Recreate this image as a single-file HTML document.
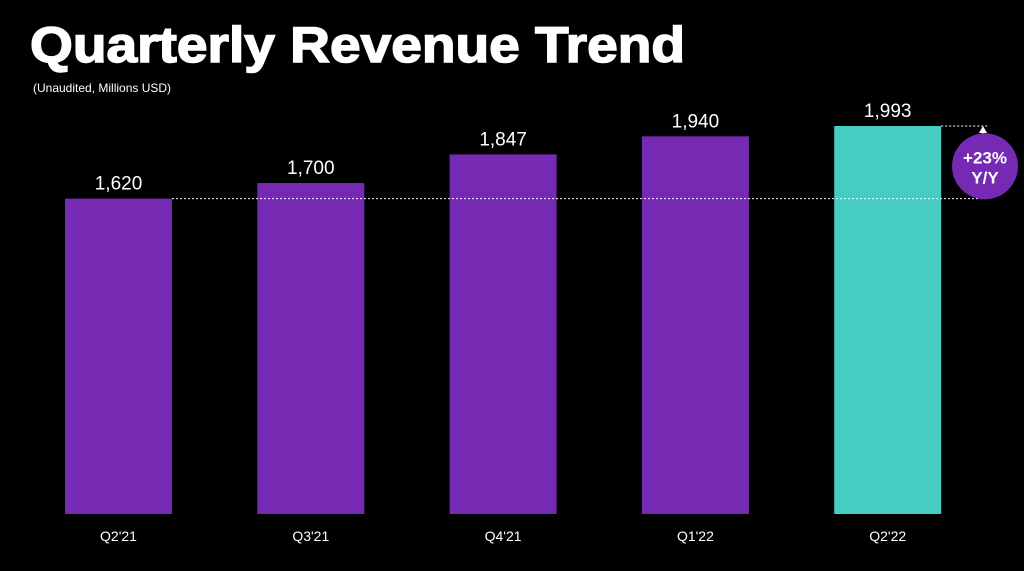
<!DOCTYPE html>
<html><head><meta charset="utf-8"><style>
html,body{margin:0;padding:0;background:#000;}
svg{display:block;font-family:"Liberation Sans",Arial,sans-serif;}
</style></head><body>
<svg id="chart" width="1024" height="571" viewBox="0 0 1024 571">
<text x="30" y="62" font-size="50" font-weight="bold" fill="#fff" textLength="655" lengthAdjust="spacingAndGlyphs" stroke="#fff" stroke-width="1.5">Quarterly Revenue Trend</text>
<text x="33" y="92" font-size="12" fill="#fff">(Unaudited, Millions USD)</text>
<g id="bars"></g>
</svg>
<script>
const categories = ["Q2'21","Q3'21","Q4'21","Q1'22","Q2'22"];
const revenues = [1620,1700,1847,1940,1993];
const valueLabels = ["1,620","1,700","1,847","1,940","1,993"];
const growthLabel = ["+23%","Y/Y"];

const ns="http://www.w3.org/2000/svg";
const g=document.getElementById('bars');
const baseY=514, pxPerUnit=388/1993;
function yScale(v){return baseY - v*pxPerUnit;}
function xScale(i){return 65 + i*192.3;}
const bw=107;
function mk(tag,attrs){const e=document.createElementNS(ns,tag);for(const k in attrs)e.setAttribute(k,attrs[k]);g.appendChild(e);return e;}
categories.forEach((c,i)=>{
  const x=xScale(i), y=yScale(revenues[i]);
  const last=i===categories.length-1;
  const r=mk('rect',{x:x,y:y,width:bw,height:baseY-y,fill:last?'#45cdc4':'#762ab3'});
  
  
  const t=mk('text',{x:x+bw/2,y:y-9,'font-size':19,fill:'#fff','text-anchor':'middle'});
  t.textContent=valueLabels[i];
  
  
  const l=mk('text',{x:x+bw/2,y:541,'font-size':14,fill:'#fff','text-anchor':'middle'});
  l.textContent=c;
  
  
});
const y0=yScale(revenues[0]), y1=yScale(revenues[revenues.length-1]);
const d1=mk('line',{x1:xScale(0)+bw,y1:y0,x2:988,y2:y0,stroke:'#fff','stroke-width':1,'stroke-dasharray':'2,2'});


const d2=mk('line',{x1:xScale(4)+bw,y1:y1,x2:988,y2:y1,stroke:'#fff','stroke-width':1,'stroke-dasharray':'2,2'});


const ar=mk('line',{x1:983,y1:y0,x2:983,y2:y1+6,stroke:'#fff','stroke-width':1.5});


const ah=mk('polygon',{points:`979,${y1+7} 987,${y1+7} 983,${y1}`,fill:'#fff'});


const cy=(y0+y1)/2+4;
const circ=mk('circle',{cx:985,cy:cy,r:33,fill:'#762ab3'});


growthLabel.forEach((s,k)=>{
  const t=mk('text',{x:985,y:cy-3+k*20,'font-size':17,'font-weight':'bold',fill:'#fff','text-anchor':'middle'});
  t.textContent=s;
  
  
});
</script>
</body></html>
